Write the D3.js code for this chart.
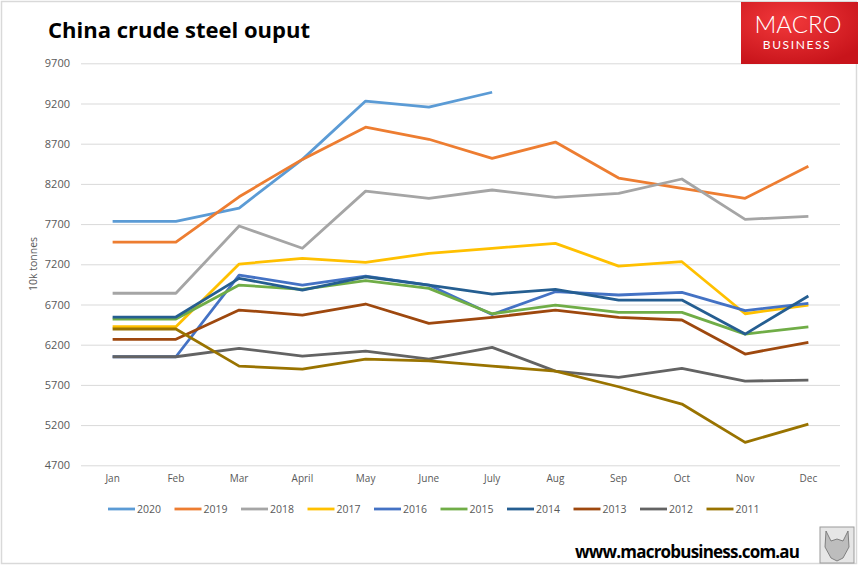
<!doctype html>
<html>
<head>
    <title>China crude steel ouput</title>
    <script src="https://d3js.org/d3.v7.min.js" charset="utf-8"></script>
    <style>
        body { margin: 0; background: #fff; }
        text { font-family: "Open Sans", "Noto Sans", sans-serif; }
    </style>
</head>
<body>
    <script>
        // data (10k tonnes)
        var months = ["Jan", "Feb", "Mar", "April", "May", "June", "July", "Aug", "Sep", "Oct", "Nov", "Dec"];
        var years = ["2020", "2019", "2018", "2017", "2016", "2015", "2014", "2013", "2012", "2011"];
        var colors = ["#5B9BD5", "#ED7D31", "#A5A5A5", "#FFC000", "#4472C4", "#70AD47", "#255E91", "#9E480E", "#636363", "#997300"];
        var yTicks = [4700, 5200, 5700, 6200, 6700, 7200, 7700, 8200, 8700, 9200, 9700];

        var v2020 = [7735, 7735, 7900, 8505, 9230, 9155, 9340];
        var v2019 = [7475, 7475, 8040, 8505, 8905, 8755, 8518, 8720, 8273, 8145, 8020, 8420];
        var v2018 = [6840, 6840, 7676, 7400, 8110, 8021, 8124, 8033, 8083, 8261, 7759, 7797];
        var v2017 = [6423, 6423, 7203, 7274, 7224, 7336, 7399, 7461, 7178, 7232, 6585, 6693];
        var v2016 = [6050, 6050, 7066, 6942, 7054, 6942, 6575, 6859, 6818, 6851, 6625, 6714];
        var v2015 = [6519, 6519, 6942, 6889, 6996, 6901, 6585, 6693, 6602, 6602, 6332, 6423];
        var v2014 = [6544, 6544, 7025, 6880, 7045, 6942, 6830, 6889, 6755, 6755, 6332, 6805];
        var v2013 = [6267, 6267, 6631, 6569, 6706, 6466, 6540, 6631, 6540, 6507, 6084, 6229];
        var v2012 = [6050, 6050, 6155, 6059, 6121, 6021, 6167, 5872, 5794, 5906, 5748, 5760];
        var v2011 = [6395, 6395, 5934, 5897, 6021, 6000, 5934, 5872, 5677, 5462, 4985, 5213];
        var series = [v2020, v2019, v2018, v2017, v2016, v2015, v2014, v2013, v2012, v2011];

        var W = 858, H = 566;
        var plotL = 81, plotR = 840, plotT = 63.3, plotB = 465.3;

        var svg = d3.select("body").append("svg").attr("width", W).attr("height", H);

        // outer frame
        svg.append("rect").attr("x", 1.5).attr("y", 1.5).attr("width", 855).attr("height", 562)
            .attr("fill", "none").attr("stroke", "#d9d9d9").attr("stroke-width", 1.5);

        var x = d3.scaleBand().domain(months).range([plotL, plotR]);
        var y = d3.scaleLinear().domain([4700, 9700]).range([plotB, plotT]);

        // gridlines + y labels
        var yAxis = svg.append("g").attr("transform", "translate(" + plotL + ",0)")
            .call(d3.axisLeft(y).tickValues(yTicks).tickSize(-(plotR - plotL)).tickPadding(11).tickFormat(d3.format("d")));
        yAxis.select(".domain").remove();
        yAxis.selectAll("line").attr("stroke", "#d9d9d9").attr("stroke-width", 1);
        yAxis.selectAll("text").attr("fill", "#595959").attr("font-size", 11)
            .style("font-family", "'Open Sans', sans-serif");

        // x labels
        var xAxis = svg.append("g").attr("transform", "translate(0," + plotB + ")")
            .call(d3.axisBottom(x).tickSize(0).tickPadding(10));
        xAxis.select(".domain").remove();
        xAxis.selectAll("text").attr("fill", "#595959").attr("font-size", 10)
            .style("font-family", "'Open Sans', sans-serif");

        // y axis title
        svg.append("text").attr("transform", "translate(37,264) rotate(-90)")
            .attr("text-anchor", "middle").attr("fill", "#595959").attr("font-size", 10.5).text("10k tonnes");

        var line = d3.line()
            .x(function(d, i) { return x(months[i]) + x.bandwidth() / 2; })
            .y(function(d) { return y(d); });

        for (var i = 0; i < series.length; i++) {
            svg.append("path").datum(series[i])
                .attr("d", line)
                .attr("fill", "none")
                .attr("stroke", colors[i])
                .attr("stroke-width", 2.8)
                .attr("stroke-linejoin", "round");
        }

        // legend
        var lg = svg.append("g");
        for (var i = 0; i < years.length; i++) {
            var lx = 108 + i * 66.5;
            lg.append("line").attr("x1", lx).attr("x2", lx + 27).attr("y1", 509).attr("y2", 509)
                .attr("stroke", colors[i]).attr("stroke-width", 2.8);
            lg.append("text").attr("x", lx + 29).attr("y", 513).attr("fill", "#595959")
                .attr("font-size", 10.5).text(years[i]);
        }

        // title
        svg.append("text").attr("x", 48).attr("y", 38).attr("font-size", 22).attr("font-weight", "bold")
            .attr("fill", "#000").text("China crude steel ouput");

        // MACRO BUSINESS logo
        var grad = svg.append("defs").append("radialGradient").attr("id", "red")
            .attr("cx", "40%").attr("cy", "30%").attr("r", "75%");
        grad.append("stop").attr("offset", "0%").attr("stop-color", "#f2393b");
        grad.append("stop").attr("offset", "100%").attr("stop-color", "#c8141b");
        svg.append("rect").attr("x", 741).attr("y", 2).attr("width", 117).attr("height", 62).attr("fill", "url(#red)");
        svg.append("text").attr("x", 798).attr("y", 33).attr("text-anchor", "middle").attr("fill", "#fff")
            .attr("font-size", 24).attr("font-weight", 300).style("font-family", "Lato, 'Open Sans', sans-serif")
            .text("MACRO");
        svg.append("text").attr("x", 797).attr("y", 49).attr("text-anchor", "middle").attr("fill", "#fff")
            .attr("font-size", 12).attr("letter-spacing", 1.6).style("font-family", "Lato, 'Open Sans', sans-serif")
            .text("BUSINESS");

        // footer
        svg.append("text").attr("x", 575).attr("y", 558).attr("font-size", 17).attr("font-weight", "bold")
            .attr("fill", "#000").attr("textLength", 225).text("www.macrobusiness.com.au");

        // small wolf badge
        svg.append("rect").attr("x", 820).attr("y", 527).attr("width", 34).attr("height", 36)
            .attr("fill", "#e6e6e6").attr("stroke", "#9a9a9a").attr("stroke-width", 1);
        svg.append("path").attr("d", "M826,531 L831,541 L837,539 L843,541 L848,531 L849,547 L843,558 L837,561 L831,558 L825,547 Z")
            .attr("fill", "#bdbdbd").attr("stroke", "#6b6b6b").attr("stroke-width", 0.8);
    </script>
</body>
</html>
